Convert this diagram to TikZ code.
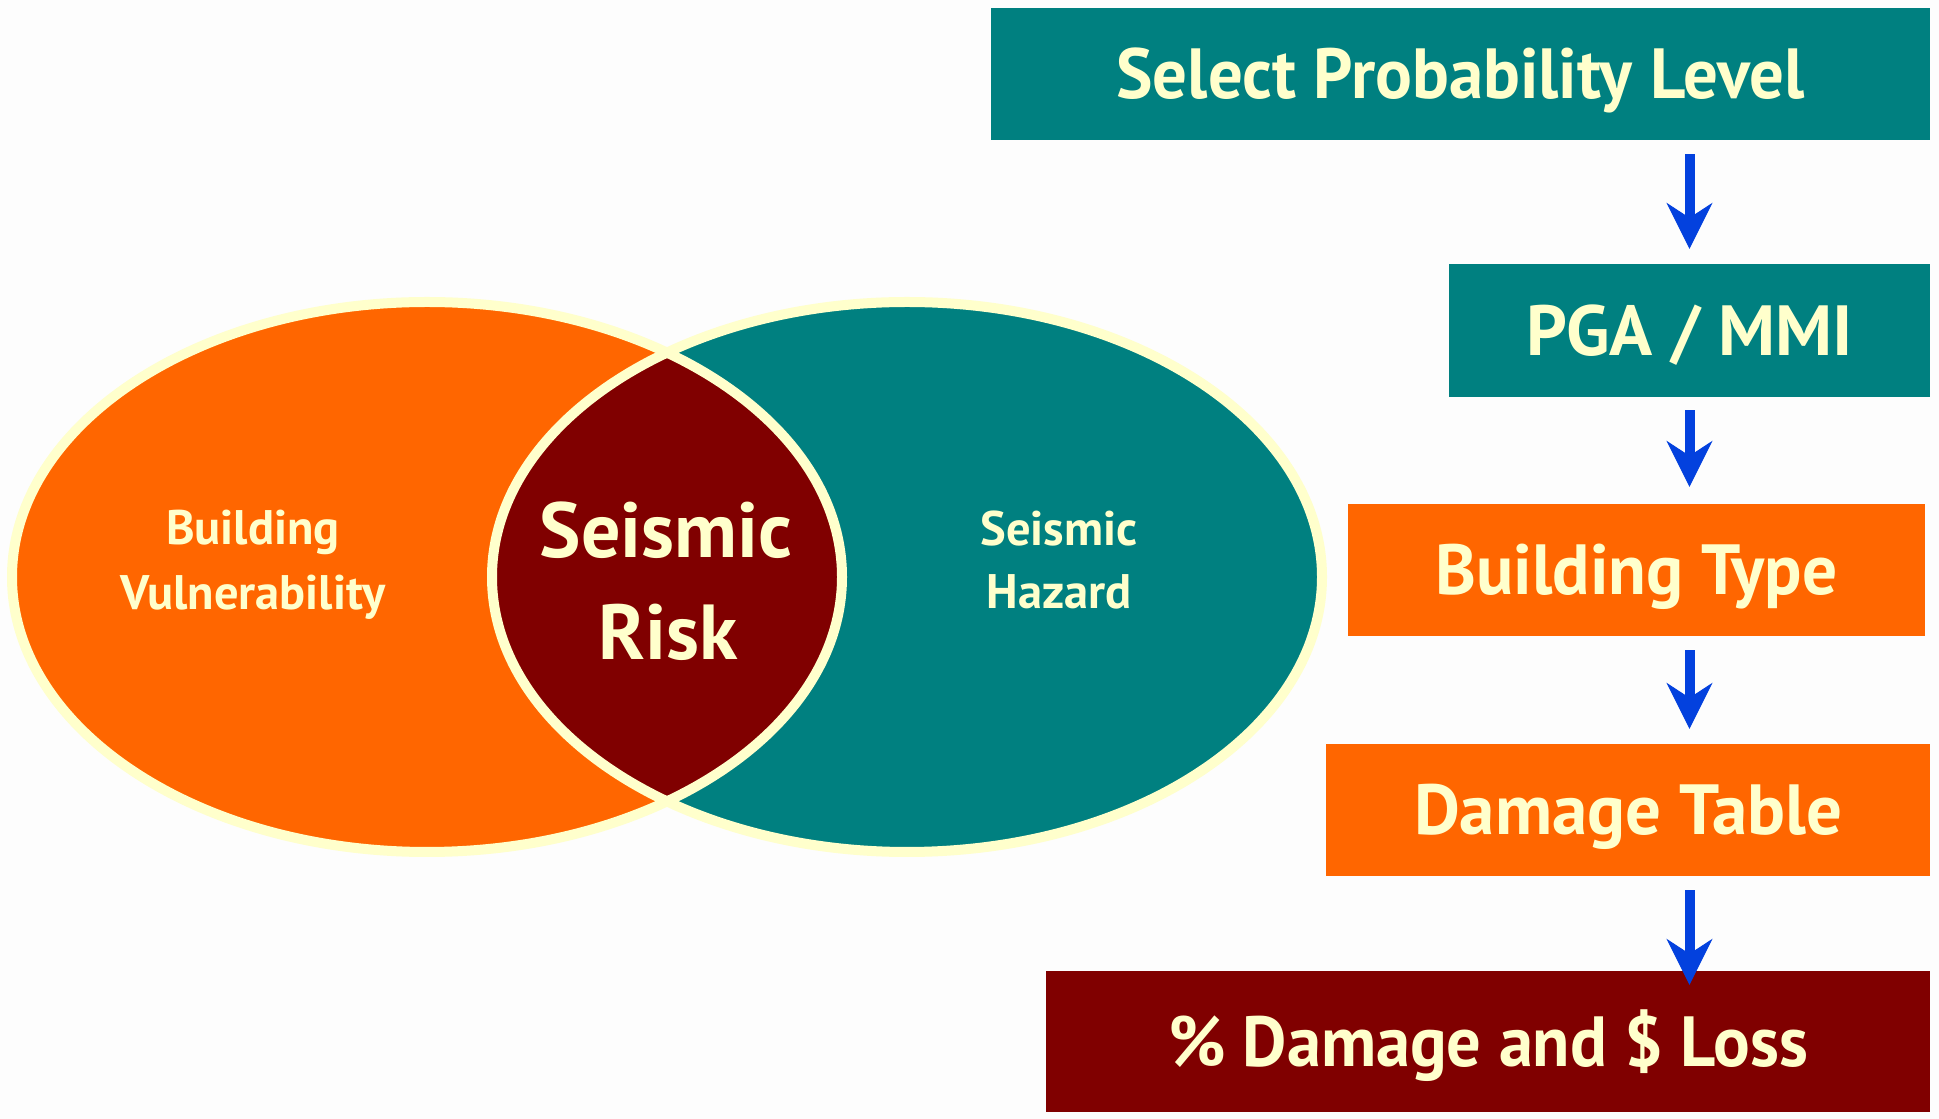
\documentclass[tikz,border=0pt]{standalone}
\usepackage{fontspec}
\setmainfont{PT Sans}
\usetikzlibrary{arrows.meta,calc}
\definecolor{bgwhite}{RGB}{253,253,253}
\definecolor{riskred}{RGB}{128,0,0}
\definecolor{hazteal}{RGB}{0,128,128}
\definecolor{vulorange}{RGB}{255,102,0}
\definecolor{paleyel}{RGB}{255,255,204}
\definecolor{flowblue}{RGB}{3,65,222}
\tikzset{
  stagebox/.style={inner sep=0pt, text=paleyel, font=\fontsize{71}{80}\selectfont\bfseries,
    text height=50pt, text depth=0pt, minimum height=132pt},
  flow/.style={-{Stealth[length=46pt,width=46pt,inset=15pt,line width=1pt]}, flowblue, line width=10pt},
  rim/.style={paleyel, line width=10pt},
  venntext/.style={text=paleyel, font=\fontsize{48.5}{55}\selectfont\bfseries, anchor=base, inner sep=0pt}
}
\begin{document}
\begin{tikzpicture}[x=1pt,y=1pt]
\useasboundingbox (0,0) rectangle (1939,1119);
\fill[bgwhite] (0,0) rectangle (1939,1119);
% venn part
\coordinate (vc) at (427,542);
\coordinate (hc) at (907,542);
\fill[vulorange] (vc) ellipse [x radius=415pt, y radius=275pt];
\fill[hazteal] (hc) ellipse [x radius=415pt, y radius=275pt];
\begin{scope}
  \clip (vc) ellipse [x radius=415pt, y radius=275pt];
  \fill[riskred] (hc) ellipse [x radius=415pt, y radius=275pt];
\end{scope}
\draw[rim] (vc) ellipse [x radius=415pt, y radius=275pt];
\draw[rim] (hc) ellipse [x radius=415pt, y radius=275pt];
\node[venntext] (bld) at (253,574) {Building};
\node[venntext] (vul) at (253,509) {Vulnerability};
\node[venntext] (sei) at (1059,573) {Seismic};
\node[venntext] (haz) at (1059,510) {Hazard};
\node[venntext, font=\fontsize{78}{90}\selectfont\bfseries] (rsk1) at (666,561) {Seismic};
\node[venntext, font=\fontsize{78}{90}\selectfont\bfseries] (rsk2) at (668,459) {Risk};
% flow of steps
\node[stagebox, fill=hazteal, minimum width=939pt] (sel) at (1460.5,1045)
  {\resizebox{688pt}{\height}{Select Probability Level}};
\node[stagebox, fill=hazteal, minimum width=481pt, minimum height=133pt] (pga) at (1689.5,788.5)
  {\resizebox{326pt}{\height}{PGA / MMI}};
\node[stagebox, fill=vulorange, minimum width=577pt] (btype) at (1636.5,549)
  {\resizebox{402pt}{\height}{Building Type}};
\node[stagebox, fill=vulorange, minimum width=604pt] (dtab) at (1628,309)
  {\resizebox{428pt}{\height}{Damage Table}};
\node[stagebox, fill=riskred, minimum width=884pt, minimum height=141pt] (loss) at (1488,77.5)
  {\resizebox{640pt}{\height}{\% Damage and \$ Loss}};
\draw[flow] ($(sel.south -| pga.center)+(0,-14)$) -- ($(pga.north)+(0,15)$);
\draw[flow] ($(pga.south)+(0,-13)$) -- ($(btype.north -| pga.center)+(0,17)$);
\draw[flow] ($(btype.south -| pga.center)+(0,-14)$) -- ($(dtab.north -| pga.center)+(0,15)$);
\draw[flow] ($(dtab.south -| pga.center)+(0,-14)$) -- ($(loss.north -| pga.center)+(0,-14)$);
\end{tikzpicture}
\end{document}
